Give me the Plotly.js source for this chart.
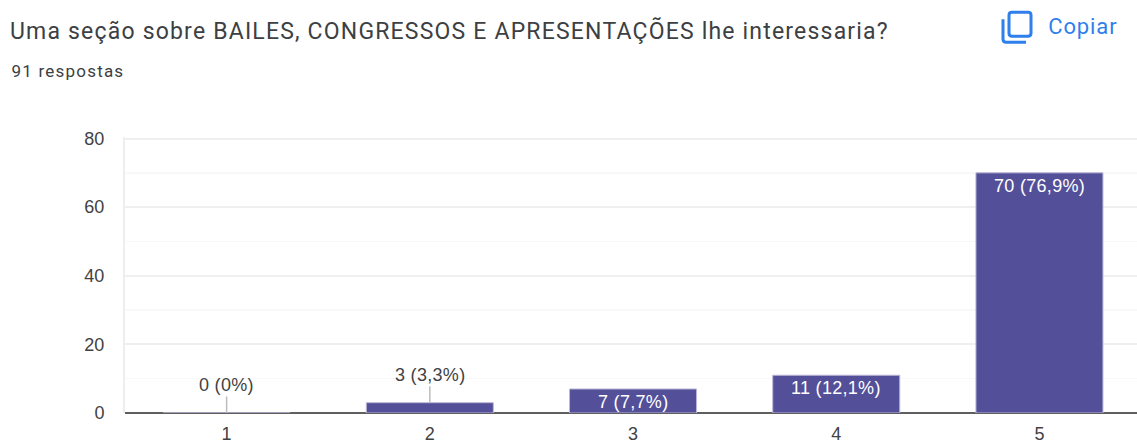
<!DOCTYPE html>
<html><head><meta charset="utf-8">
<script src="https://cdn.plot.ly/plotly-3.0.1.min.js"></script>
<style>html,body{margin:0;padding:0;background:#fff;overflow:hidden}#c{width:1137px;height:441px}
.gtitle{letter-spacing:1.19px}
.annotation-text{letter-spacing:0.3px}
.annotation[data-index="5"] .annotation-text{letter-spacing:1.2px}
.annotation[data-index="6"] .annotation-text{letter-spacing:0.9px}</style>
</head><body><div id="c"></div>
<script>
const categories = [1, 2, 3, 4, 5];
const counts = [0, 3, 7, 11, 70];
const percents = ["0%", "3,3%", "7,7%", "12,1%", "76,9%"];
const yTicks = [0, 20, 40, 60, 80];
const titleText = "Uma seção sobre BAILES, CONGRESSOS E APRESENTAÇÕES lhe interessaria?";
const subtitleText = "91 respostas";
const copyText = "Copiar";
const W = 1137, H = 441;
const L = 125, T = 137, B = 27.5;
const PW = W - L, PH = H - T - B;
const px = v => (v - L) / PW, py = v => (H - B - v) / PH;
const blue = "#2f7fec";
const labelFont = c => ({family: "Liberation Sans, Arial", size: 18, color: c});

const barAnns = categories.map((c, i) => {
  const label = counts[i] + " (" + percents[i] + ")";
  const outside = counts[i] < 5;
  return outside ? {
    x: c, y: counts[i], xref: "x", yref: "y", text: label, showarrow: true,
    arrowhead: 0, arrowwidth: 1.5, arrowcolor: "#bdbdbd", ax: 0, ay: -28,
    font: labelFont("#424242")
  } : {
    x: c, y: counts[i], xref: "x", yref: "y", text: label, showarrow: false,
    yanchor: "top", yshift: -1,
    font: labelFont("#ffffff")
  };
});

const textAnns = [
  {xref: "paper", yref: "paper", x: px(14.5), y: py(71), xanchor: "left", yanchor: "middle",
   text: subtitleText, showarrow: false, font: {family: "Roboto", size: 17, color: "#3c4043"}},
  {xref: "paper", yref: "paper", x: px(1047.5), y: py(26), xanchor: "left", yanchor: "middle",
   text: copyText, showarrow: false, font: {family: "Roboto", size: 22, color: blue}}
];

function roundedRect(x0, y0, x1, y1, r) {
  const X = v => px(v), Y = v => py(v);
  return "M" + X(x0 + r) + "," + Y(y0) + " L" + X(x1 - r) + "," + Y(y0) +
    " Q" + X(x1) + "," + Y(y0) + " " + X(x1) + "," + Y(y0 + r) +
    " L" + X(x1) + "," + Y(y1 - r) +
    " Q" + X(x1) + "," + Y(y1) + " " + X(x1 - r) + "," + Y(y1) +
    " L" + X(x0 + r) + "," + Y(y1) +
    " Q" + X(x0) + "," + Y(y1) + " " + X(x0) + "," + Y(y1 - r) +
    " L" + X(x0) + "," + Y(y0 + r) +
    " Q" + X(x0) + "," + Y(y0) + " " + X(x0 + r) + "," + Y(y0) + " Z";
}
const iconShapes = [
  {type: "path", xref: "paper", yref: "paper", path: roundedRect(1009, 12, 1031, 36, 3),
   line: {color: blue, width: 3}, fillcolor: "#fff"},
  {type: "path", xref: "paper", yref: "paper",
   path: "M" + px(1003) + "," + py(19) + " L" + px(1003) + "," + py(39) +
         " Q" + px(1003) + "," + py(42) + " " + px(1006) + "," + py(42) +
         " L" + px(1026) + "," + py(42),
   line: {color: blue, width: 3}}
];

Plotly.newPlot("c", [{
  type: "bar", x: categories, y: counts, width: 0.625,
  marker: {color: "#544f99", line: {color: "#b9b6d6", width: 1}},
  hoverinfo: "skip", cliponaxis: false
}], {
  width: W, height: H, paper_bgcolor: "#fff", plot_bgcolor: "#fff",
  margin: {l: L, r: 0, t: T, b: B, pad: 0},
  showlegend: false,
  title: {text: titleText, x: 10 / W, xref: "container", xanchor: "left", y: 1 - 31 / H, yref: "container", yanchor: "middle",
          font: {family: "Roboto", size: 23, color: "#3c4043"}},
  xaxis: {range: [0.5, 5.48], tickvals: categories, ticktext: categories.map(String), showgrid: false,
          zeroline: false, showline: false, ticks: "outside", ticklen: 4, tickcolor: "rgba(0,0,0,0)",
          tickfont: labelFont("#424242")},
  yaxis: {range: [0, 80.45], tickvals: yTicks, showgrid: true, gridcolor: "#efefef", gridwidth: 2,
          minor: {dtick: 10, showgrid: true, gridcolor: "#f8f8f8", gridwidth: 1.5},
          zeroline: true, zerolinecolor: "#5f5f5f", zerolinewidth: 2,
          showline: true, linecolor: "#eeeeee", linewidth: 2, ticks: "outside", ticklen: 15, tickcolor: "rgba(0,0,0,0)",
          tickfont: labelFont("#424242")},
  annotations: barAnns.concat(textAnns),
  shapes: iconShapes
}, {displayModeBar: false, staticPlot: true});
</script></body></html>
